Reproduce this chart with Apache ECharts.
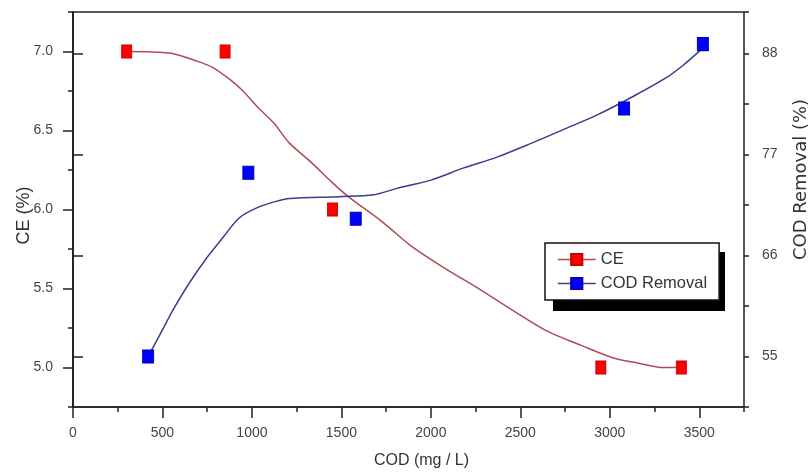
<!DOCTYPE html>
<html>
<head>
<meta charset="utf-8">
<script src="https://cdn.jsdelivr.net/npm/echarts@6/dist/echarts.min.js"></script>
<style>
    html, body { margin: 0; padding: 0; background: #fff; }
    #chart { width: 811px; height: 474px; }
</style>
</head>
<body>
<div id="chart"></div>
<script>
// measured points
const ceX = [300, 850, 1450, 2950, 3400];
const ceY = [7.0, 7.0, 6.0, 5.0, 5.0];
const codX = [420, 980, 1580, 3080, 3520];
const codY = [55, 75, 70, 82, 89];

// fitted curves
const ceFitX = [300, 540, 690, 780, 880, 950, 1030, 1120, 1210, 1330, 1440, 1540, 1720, 1900, 2090, 2280, 2460, 2650, 2840, 3020, 3150, 3300, 3400];
const ceFitY = [7.0, 6.99, 6.94, 6.9, 6.82, 6.75, 6.65, 6.55, 6.42, 6.3, 6.18, 6.08, 5.93, 5.76, 5.62, 5.49, 5.36, 5.23, 5.14, 5.06, 5.03, 5.0, 5.0];
const codFitX = [420, 500, 560, 650, 750, 840, 930, 1030, 1120, 1210, 1490, 1680, 1810, 2000, 2180, 2370, 2560, 2740, 2930, 3130, 3320, 3410, 3510];
const codFitY = [55, 57.9, 60.1, 63.0, 65.8, 68.0, 70.1, 71.2, 71.8, 72.2, 72.4, 72.6, 73.3, 74.2, 75.5, 76.7, 78.2, 79.7, 81.3, 83.3, 85.4, 86.7, 88.4];

// tick labels
const xTicks = [0, 500, 1000, 1500, 2000, 2500, 3000, 3500];
const ceTicks = [5.0, 5.5, 6.0, 6.5, 7.0];
const codTicks = [55, 66, 77, 88];

const zip = (xs, ys) => xs.map((x, i) => [x, ys[i]]);

const chart = echarts.init(document.getElementById('chart'));

const lineColor = '#222';
const labelStyle = { color: '#444', fontSize: 14, fontFamily: 'Liberation Sans, Arial, sans-serif' };
const ceCurveColor = '#b04a55';
const codCurveColor = '#3c3c8c';

// axis without line/labels, only used to draw the short minor ticks
const minorAxis = (extra) => Object.assign({
    type: 'value',
    axisLine: { show: false },
    axisLabel: { show: false },
    splitLine: { show: false },
    axisTick: { show: true, length: 5, lineStyle: { color: lineColor, width: 1.5 } }
}, extra);

const option = {
    backgroundColor: '#fff',
    animation: false,
    grid: {
        left: 73, right: 67, top: 12, bottom: 67,
        outerBoundsMode: 'none', containLabel: false,
        show: true, borderColor: lineColor, borderWidth: 1.5, backgroundColor: 'transparent'
    },
    // drop shadow of the legend box
    graphic: [{
        type: 'rect', left: 553, top: 252, z: 1, silent: true,
        shape: { width: 172, height: 59 },
        style: { fill: '#000' }
    }],
    legend: {
        orient: 'vertical',
        left: 545, top: 243, z: 5,
        padding: [8, 12, 8, 12],
        itemWidth: 38, itemHeight: 14, itemGap: 7,
        backgroundColor: '#fff',
        borderColor: '#111', borderWidth: 1.5,
        textStyle: { fontSize: 16.5, color: '#333', fontFamily: 'Liberation Sans, Arial, sans-serif' },
        data: [
            { name: 'CE', lineStyle: { color: ceCurveColor, width: 1.5, opacity: 1 } },
            { name: 'COD Removal', lineStyle: { color: codCurveColor, width: 1.5, opacity: 1 } }
        ]
    },
    xAxis: [
        {
            type: 'value', min: 0, max: 3750,
            name: 'COD (mg / L)', nameLocation: 'middle', nameGap: 46, nameMoveOverlap: false,
            nameTextStyle: { fontSize: 16, color: '#333', fontFamily: 'Liberation Sans Narrow, Arial Narrow, sans-serif', padding: [0, 0, 0, 26] },
            axisLine: { lineStyle: { color: lineColor, width: 1.5 } },
            axisTick: { length: 11, customValues: xTicks, lineStyle: { color: lineColor, width: 1.5 } },
            axisLabel: Object.assign({ margin: 19, customValues: xTicks, formatter: v => String(v) }, labelStyle),
            splitLine: { show: false }
        },
        minorAxis({ min: 0, max: 3750, interval: 250, position: 'bottom' })
    ],
    yAxis: [
        {
            type: 'value', min: 4.75, max: 7.25, position: 'left',
            name: 'CE (%)', nameLocation: 'middle', nameGap: 40, nameRotate: 90, nameMoveOverlap: false,
            nameTextStyle: { fontSize: 18, color: '#333', fontFamily: 'Liberation Sans, Arial, sans-serif', padding: [0, 12, 0, 0] },
            axisLine: { show: true, lineStyle: { color: lineColor, width: 1.5 } },
            axisTick: { show: true, length: 10, customValues: ceTicks, lineStyle: { color: lineColor, width: 1.5 } },
            axisLabel: Object.assign({ margin: 20, customValues: ceTicks, formatter: v => v.toFixed(1) }, labelStyle),
            splitLine: { show: false }
        },
        {
            type: 'value', min: 49.5, max: 92.5, position: 'right',
            name: 'COD Removal (%)', nameLocation: 'middle', nameGap: 48, nameRotate: 90, nameMoveOverlap: false,
            nameTextStyle: { fontSize: 18, color: '#333', fontFamily: 'DejaVu Sans, sans-serif', padding: [0, 0, 0, 60] },
            axisLine: { show: true, lineStyle: { color: lineColor, width: 1.5 } },
            axisTick: { show: true, length: 10, customValues: codTicks, lineStyle: { color: lineColor, width: 1.5 } },
            axisLabel: Object.assign({ margin: 18, customValues: codTicks }, labelStyle),
            splitLine: { show: false }
        },
        minorAxis({ min: 4.75, max: 7.25, interval: 0.25, position: 'left' }),
        minorAxis({ min: 49.5, max: 92.5, interval: 5.5, position: 'right' })
    ],
    series: [
        {
            name: 'CE fit', type: 'line', xAxisIndex: 0, yAxisIndex: 0,
            data: zip(ceFitX, ceFitY), smooth: 0.3, showSymbol: false, silent: true,
            lineStyle: { color: ceCurveColor, width: 1.5 }
        },
        {
            name: 'COD fit', type: 'line', xAxisIndex: 0, yAxisIndex: 1,
            data: zip(codFitX, codFitY), smooth: 0.3, showSymbol: false, silent: true,
            lineStyle: { color: codCurveColor, width: 1.5 }
        },
        {
            name: 'CE', type: 'line', xAxisIndex: 0, yAxisIndex: 0,
            data: zip(ceX, ceY), symbol: 'rect', symbolSize: [10, 13], showSymbol: true,
            lineStyle: { opacity: 0 },
            itemStyle: { color: '#ff0000', borderColor: '#c80000', borderWidth: 1 }
        },
        {
            name: 'COD Removal', type: 'line', xAxisIndex: 0, yAxisIndex: 1,
            data: zip(codX, codY), symbol: 'rect', symbolSize: [11, 13], showSymbol: true,
            lineStyle: { opacity: 0 },
            itemStyle: { color: '#0000ff', borderColor: '#0000b0', borderWidth: 1 }
        }
    ]
};

chart.setOption(option);
</script>
</body>
</html>
